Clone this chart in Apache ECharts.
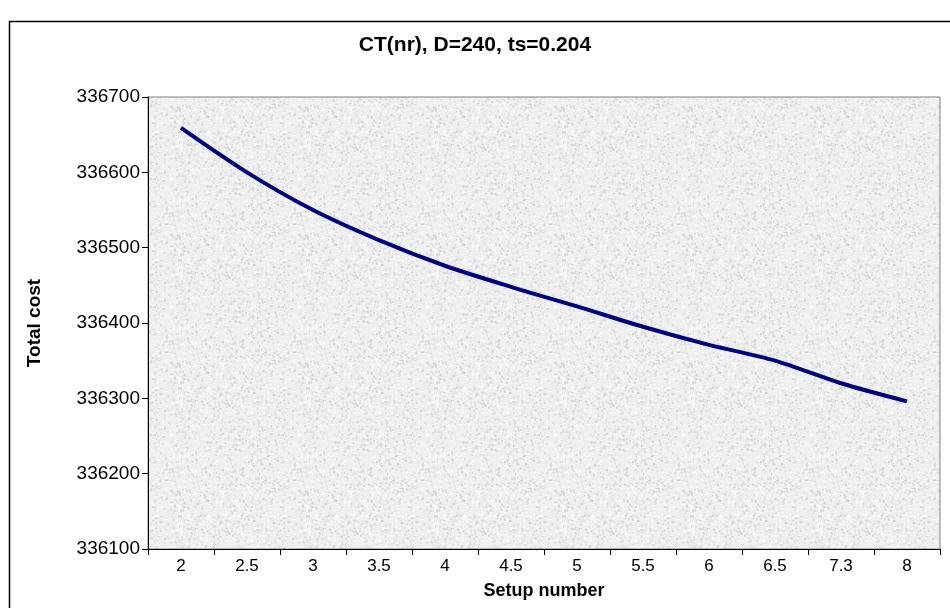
<!DOCTYPE html>
<html><head><meta charset="utf-8">
<script src="https://cdn.jsdelivr.net/npm/echarts@6/dist/echarts.min.js"></script>
<style>html,body{margin:0;padding:0;background:#fff}#c{width:950px;height:608px}</style>
</head><body><div id="c"></div>
<script>
const titleText = 'CT(nr), D=240, ts=0.204';
const xName = 'Setup number';
const yName = 'Total cost';
const categories = ['2','2.5','3','3.5','4','4.5','5','5.5','6','6.5','7.3','8'];
const totalCost = [336659, 336600, 336550, 336510, 336476, 336448, 336422, 336395, 336371, 336350, 336320, 336296];
const yMin = 336100, yMax = 336700, yStep = 100;

// deterministic granite-like texture for the plot background
function makeTexture(){
  const c = document.createElement('canvas'); c.width = 128; c.height = 128;
  const g = c.getContext('2d');
  g.fillStyle = '#efefef'; g.fillRect(0,0,128,128);
  let s = 12345;
  function rnd(){ s = (s * 1103515245 + 12345) & 0x7fffffff; return s / 0x7fffffff; }
  for (let i = 0; i < 2400; i++) {
    const x = rnd()*128, y = rnd()*128, v = rnd();
    const shade = v < 0.5 ? Math.floor(208 + rnd()*20) : Math.floor(242 + rnd()*13);
    g.fillStyle = 'rgb(' + shade + ',' + shade + ',' + shade + ')';
    g.fillRect(x, y, 1 + Math.floor(rnd()*2), 1 + Math.floor(rnd()*2));
  }
  return c;
}

const chart = echarts.init(document.getElementById('c'), null, {renderer:'canvas'});
chart.setOption({
  animation: false,
  backgroundColor: '#ffffff',
  title: {
    text: titleText, left: 'center', top: 30,
    textStyle: {fontFamily: 'Liberation Sans', fontSize: 21, fontWeight: 'bold', color: '#000'}
  },
  graphic: [{
    type: 'rect', left: 7, top: 19, shape: {x: 0, y: 0, width: 960, height: 620},
    style: {fill: 'none', stroke: '#000', lineWidth: 1.5}, silent: true, z: 100
  }],
  grid: {
    left: 148, right: 10, top: 97, bottom: 59, show: true,
    backgroundColor: {image: makeTexture(), repeat: 'repeat'},
    borderColor: '#808080', borderWidth: 1
  },
  xAxis: {
    type: 'category', data: categories, boundaryGap: true,
    name: xName, nameLocation: 'middle', nameGap: 33,
    nameTextStyle: {fontFamily: 'Liberation Sans', fontSize: 18, fontWeight: 'bold', color: '#000'},
    axisLine: {show: true, lineStyle: {color: '#000', width: 1}},
    axisTick: {show: true, inside: false, length: 6, lineStyle: {color: '#000'}},
    axisLabel: {fontFamily: 'Liberation Sans', fontSize: 17, color: '#000', margin: 9},
    splitLine: {show: false}
  },
  yAxis: {
    type: 'value', min: yMin, max: yMax, interval: yStep,
    name: yName, nameLocation: 'middle', nameGap: 104,
    nameTextStyle: {fontFamily: 'Liberation Sans', fontSize: 19, fontWeight: 'bold', color: '#000'},
    axisLine: {show: true, lineStyle: {color: '#000', width: 1}},
    axisTick: {show: true, inside: false, length: 6, lineStyle: {color: '#000'}},
    axisLabel: {fontFamily: 'Liberation Sans', fontSize: 19, color: '#000', margin: 8,
      formatter: function(v){ return String(v); }},
    splitLine: {show: false}
  },
  series: [{
    type: 'line', data: totalCost, smooth: 0.3, symbol: 'none',
    lineStyle: {color: '#000080', width: 4}
  }]
});
</script>
</body></html>
